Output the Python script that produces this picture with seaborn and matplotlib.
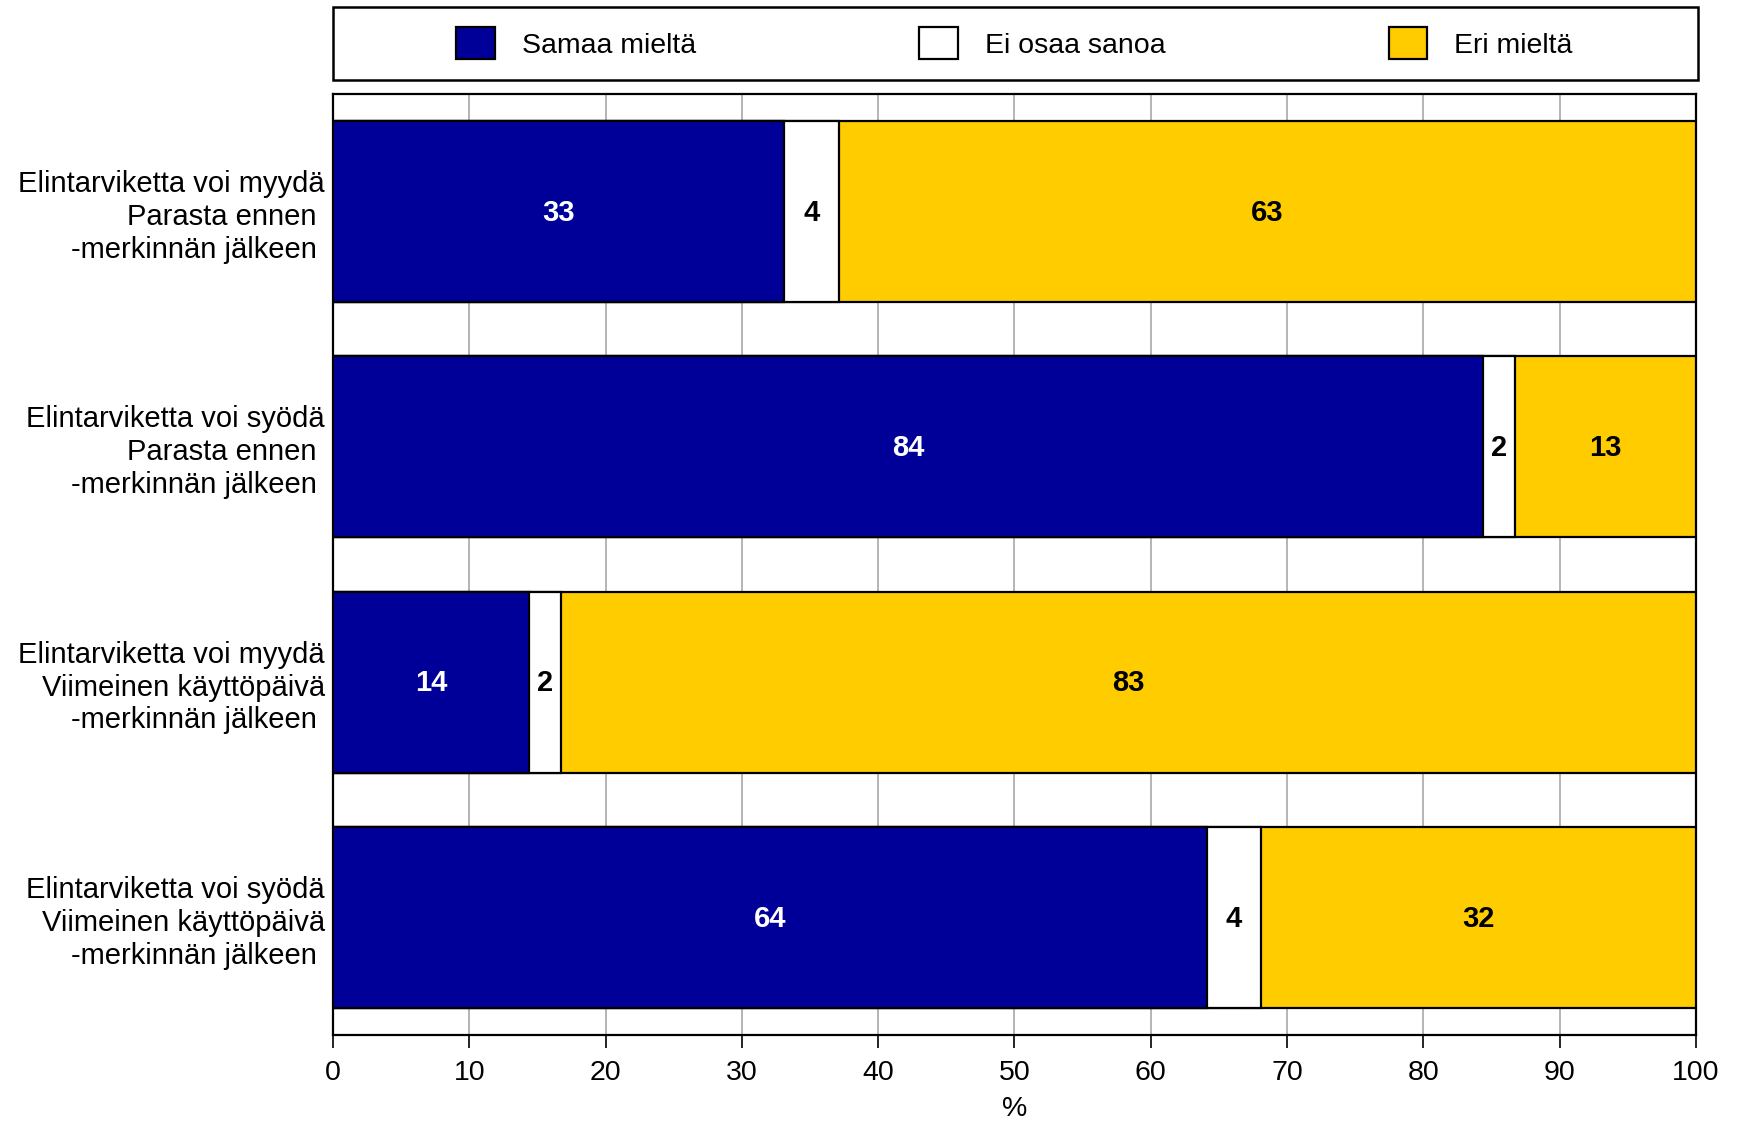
import matplotlib
matplotlib.use("Agg")
import matplotlib.pyplot as plt
from matplotlib.patches import Rectangle, Patch
import seaborn as sns
import pandas as pd
import numpy as np

categories = [
    "Elintarviketta voi myydä\nParasta ennen \n-merkinnän jälkeen ",
    "Elintarviketta voi syödä\nParasta ennen \n-merkinnän jälkeen ",
    "Elintarviketta voi myydä\nViimeinen käyttöpäivä\n-merkinnän jälkeen ",
    "Elintarviketta voi syödä\nViimeinen käyttöpäivä\n-merkinnän jälkeen ",
]
samaa = [33.1, 84.4, 14.4, 64.1]
ei_osaa = [4.0, 2.3, 2.3, 4.0]
eri = [62.9, 13.3, 83.3, 31.9]
series_names = ["Samaa mieltä", "Ei osaa sanoa", "Eri mieltä"]
colors = ["#000099", "#FFFFFF", "#FFCC00"]
text_colors = ["white", "black", "black"]
xticks = list(range(0, 101, 10))

sns.set_style("white")
plt.rcParams["font.family"] = ["Liberation Sans", "DejaVu Sans"]
plt.rcParams["text.color"] = "black"
plt.rcParams["axes.labelcolor"] = "black"
plt.rcParams["xtick.color"] = "black"
plt.rcParams["ytick.color"] = "black"

df = pd.DataFrame({"cat": categories, "s1": samaa, "s2": ei_osaa, "s3": eri})
df["c1"] = df["s1"]
df["c2"] = df["s1"] + df["s2"]
df["c3"] = df["s1"] + df["s2"] + df["s3"]

fig = plt.figure(figsize=(17.37, 11.22), dpi=100)
ax = fig.add_axes([0.1917, 0.0775, 0.9764 - 0.1917, 0.9162 - 0.0775])

for col, color in zip(["c3", "c2", "c1"], colors[::-1]):
    sns.barplot(data=df, x=col, y="cat", color=color, orient="h", width=0.77,
                edgecolor="black", linewidth=1.6, saturation=1, ax=ax, zorder=3)

# segment labels
starts = np.zeros(len(categories))
for vals, tc in zip([samaa, ei_osaa, eri], text_colors):
    for i, v in enumerate(vals):
        ax.text(starts[i] + v / 2, i + 0.005, f"{round(v)}", ha="center", va="center",
                color=tc, fontsize=21, fontweight="bold", zorder=5)
    starts = starts + np.array(vals)

ax.set_xlim(0, 100)
ax.set_ylim(len(categories) - 0.5, -0.5)
ax.set_xticks(xticks)
ax.set_xticklabels([str(t) for t in xticks], fontsize=20.5, color="black")
ax.tick_params(axis="x", direction="out", length=9, width=1.2, pad=9, bottom=True, colors="black")
ax.tick_params(axis="y", length=0, pad=6, labelsize=21, colors="black")
for lbl in ax.get_yticklabels():
    lbl.set_multialignment("right")
    lbl.set_linespacing(1.22)
    lbl.set_color("black")
ax.set_xlabel("%", fontsize=20.5, labelpad=7, color="black")
ax.set_ylabel("")
ax.xaxis.grid(True, color="#A0A0A0", linewidth=1.1, zorder=0)
ax.yaxis.grid(False)
ax.set_axisbelow(True)
for s in ax.spines.values():
    s.set_visible(True)
    s.set_color("black")
    s.set_linewidth(1.6)

# legend with frame
handles = [Patch(facecolor=c, edgecolor="black", linewidth=1.6) for c in colors]
leg = fig.legend(handles, series_names, loc="center", bbox_to_anchor=(0.584, 1 - 43.0 / 1122),
                 ncol=3, frameon=False, fontsize=20.5, handlelength=1.35, handleheight=1.35,
                 handletextpad=0.95, columnspacing=7.85, labelcolor="black")
fig.patches.append(Rectangle((333 / 1737, 1 - 80 / 1122), (1698 - 333) / 1737, 73 / 1122,
                             transform=fig.transFigure, facecolor="none", edgecolor="black",
                             linewidth=1.8))

fig.savefig("out.png", dpi=100)
